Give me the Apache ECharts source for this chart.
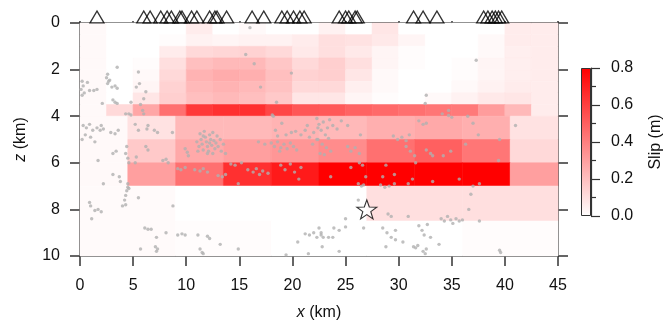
<!DOCTYPE html>
<html><head><meta charset="utf-8">
<script src="https://cdn.jsdelivr.net/npm/echarts@6/dist/echarts.min.js"></script>
<style>html,body{margin:0;padding:0;background:#fff}#c{width:667px;height:326px}</style>
</head><body><div id="c"></div>
<script>
// ---- Fault model: shallow layer (0-4 km), 2.5 km x 0.5 km patches
const topX = [0,2.5,5,7.5,10,12.5,15,17.5,20,22.5,25,27.5,30,32.5,35,37.5,40,42.5,45];
const topZ = [0,0.5,1,1.5,2,2.5,3,3.5,4];
const topSlip = [
 [0.02,0,0,0,0.06,0,0.02,0,0,0.04,0,0.08,0,0,0,0,0.06,0.06],
 [0.02,0,0,0.01,0.04,0.03,0.04,0.04,0.06,0.1,0.09,0.07,0.03,0,0,0.02,0.06,0.06],
 [0.02,0,0,0.06,0.12,0.13,0.14,0.12,0.07,0.1,0.07,0.03,0.01,0,0,0.02,0.05,0.06],
 [0.02,0,0.01,0.1,0.2,0.22,0.22,0.18,0.12,0.15,0.1,0.03,0.01,0,0.01,0.03,0.05,0.06],
 [0.02,0,0.02,0.12,0.24,0.26,0.25,0.2,0.14,0.15,0.08,0.02,0,0,0.01,0.03,0.05,0.06],
 [0.02,0,0.03,0.14,0.22,0.24,0.22,0.19,0.12,0.12,0.05,0.02,0,0,0.02,0.04,0.06,0.06],
 [0.02,0,0.08,0.15,0.2,0.22,0.2,0.17,0.08,0.08,0.03,0.01,0,0.02,0.04,0.07,0.08,0.06],
 [0.02,0.12,0.28,0.45,0.62,0.65,0.65,0.58,0.53,0.52,0.49,0.47,0.45,0.43,0.42,0.31,0.22,0.06]
];
// ---- middle layer (4-7 km), 4.5 km x 1 km patches
const midX = [0,4.5,9,13.5,18,22.5,27,31.5,36,40.5,45];
const midZ = [4,5,6,7];
const midSlip = [
 [0.02,0.09,0.22,0.22,0.24,0.22,0.25,0.27,0.25,0.09],
 [0.02,0.17,0.27,0.3,0.33,0.36,0.45,0.5,0.43,0.12],
 [0.02,0.3,0.45,0.65,0.72,0.8,0.8,0.8,0.8,0.3]
];
// ---- deep layer (7-10 km), 9 km x 1.5 km patches
const deepX = [0,9,18,27,36,45];
const deepZ = [7,8.5,10];
const deepSlip = [
 [0.015,0,0,0.1,0.1],
 [0.015,0.01,0,0,0.01]
];
// ---- stations (km along strike, at surface)
const stations = [1.6,6.0,6.6,7.6,8.2,8.6,9.4,9.6,10.5,11.0,12.2,12.7,12.9,13.8,16.2,17.3,19.0,19.5,20.1,20.7,21.1,24.4,25.0,25.3,25.9,26.1,31.4,32.3,33.6,38.0,38.4,38.8,39.1,39.4,39.7];
// ---- hypocenter
const hypo = [27, 8];
// ---- aftershocks [x, z]
const aftershocks = [
[0.2,2.5],[0.3,2.7],[0.1,2.85],[0.4,3.0],[0.2,3.1],[0.7,2.55],[0.9,2.9],[1.3,2.9],[1.6,2.85],[2.6,2.2],[2.5,2.35],[2.7,2.5],[2.6,2.6],[2.8,2.45],[3.5,1.9],[3.0,2.75],[3.3,2.7],[3.5,2.8],[3.1,3.3],[3.3,3.4],[3.5,3.45],[2.1,3.45],[4.8,3.4],[4.3,3.9],[4.6,3.9],[4.8,3.95],[5.5,2.1],[5.6,2.6],[5.3,2.75],[6.2,2.95],[6.0,3.25],[5.7,3.5],[5.9,3.75],[6.0,3.9],
[0.3,4.4],[0.6,4.5],[0.9,4.35],[1.2,4.6],[0.5,4.8],[1.0,4.9],[1.6,4.5],[1.9,4.6],[2.2,4.55],[2.0,4.4],[0.2,5.0],[1.4,5.1],[2.9,4.7],[3.3,4.75],[3.6,4.6],[3.1,5.6],[3.4,5.5],[4.3,5.6],[4.5,5.8],[4.6,6.0],[4.4,5.3],[1.7,5.9],[3.1,6.5],[3.7,6.6],[3.8,6.8],[2.2,6.9],[4.5,6.9],[4.5,7.05],[4.4,7.2],[4.6,7.1],[4.3,7.4],[4.2,7.6],[4.3,7.8],[4.0,7.85],[0.9,7.7],[1.0,7.85],[1.4,8.05],[1.7,8.0],[2.0,8.1],[1.1,8.4],[5.5,7.5],[8.75,7.85],
[5.2,4.35],[5.5,4.6],[6.4,4.4],[7.3,4.7],[8.7,4.7],[6.2,5.3],[6.4,5.45],[5.3,5.75],[5.2,6.0],[7.8,5.9],[8.1,5.85],[8.3,6.0],[6.3,4.55],[7.0,4.6],
[9.9,5.4],[10.1,5.55],[10.2,5.7],[11.0,5.1],[11.2,5.3],[11.4,5.0],[11.5,5.2],[11.6,5.45],[11.8,4.9],[11.9,5.1],[12.0,5.3],[12.1,5.5],[12.2,4.8],[12.3,5.0],[12.4,5.25],[12.5,4.7],[12.6,5.05],[12.7,5.4],[12.8,5.15],[13.0,5.3],[13.2,5.0],[13.3,5.5],[13.5,5.2],[13.7,5.6],[11.3,4.75],[11.7,4.65],[12.0,5.6],[12.5,5.6],[11.1,5.5],[12.9,4.85],[12.2,5.15],[11.6,4.85],
[9.2,6.25],[9.5,6.3],[9.9,6.2],[10.8,6.3],[11.3,6.35],[11.6,6.25],[12.0,6.4],[13.0,6.55],[13.4,6.6],[13.7,6.5],[14.2,6.05],[14.6,6.1],[15.2,6.0],[14.9,6.9],[15.8,6.3],[16.3,6.4],[16.6,6.25],[17.2,6.35],[17.7,6.45],[16.9,6.5],
[18.2,4.0],[19.0,4.3],[18.4,4.6],[18.6,4.85],[16.8,5.1],[17.4,5.2],[18.0,5.15],[18.3,5.3],[18.6,5.1],[18.9,5.35],[19.2,5.2],[19.5,5.4],[19.8,5.15],[20.1,5.3],[20.4,5.45],[18.8,5.5],[19.4,4.8],[19.9,4.7],
[18.9,6.1],[19.3,6.3],[19.8,6.05],[20.2,6.4],[20.6,6.7],[20.8,6.2],
[20.3,4.65],[20.8,4.8],[21.2,4.6],[21.6,4.9],[22.0,4.7],[22.3,5.0],[21.9,5.2],[22.4,4.5],[21.4,4.4],[22.6,5.6],
[22.3,4.1],[22.5,4.35],[22.7,4.6],[22.9,4.25],[23.1,4.8],[23.3,4.5],[23.5,4.15],[22.4,5.0],[22.8,5.2],[23.2,5.35],[23.6,5.5],[23.0,5.65],[23.4,4.95],[23.8,4.4],[24.6,4.2],[24.2,4.55],
[25.2,5.3],[25.5,5.5],[25.9,5.35],[26.3,5.6],[26.3,6.0],[26.6,6.1],[25.5,6.2],[23.6,6.6],[26.9,6.6],[26.2,6.9],[26.5,7.0],[26.7,6.95],[25.2,4.4],[26.4,4.8],
[29.5,4.85],[29.9,5.0],[30.3,4.9],[30.7,5.05],[31.0,4.8],[31.9,4.2],[32.3,4.35],[32.6,4.3],[30.7,5.3],[31.1,5.5],[31.5,5.7],[32.6,5.45],[33.0,5.6],[33.2,5.7],[31.6,6.0],[28.8,6.1],[28.5,6.6],[29.6,6.5],
[34.7,3.97],[35.0,4.05],[34.2,5.7],[34.9,5.5],[36.3,5.2],[37.5,4.8],[35.7,6.7],[37.6,6.9],[39.4,5.9],[41.0,4.4],[36.5,4.0],[37.0,4.3],[39.5,5.0],
[28.3,6.95],[28.7,7.05],[29.1,7.0],[29.6,6.9],[30.9,6.9],[31.3,6.7],[33.2,6.8],[37.0,7.0],[26.2,7.6],[36.8,7.35],[36.6,8.0],
[16.0,0.2],[16.4,1.75],[15.6,1.35],[17.0,2.75],[19.9,2.15],[18.5,3.4],[18.1,3.95],[37.3,1.6],[32.6,3.1],[32.5,3.45],[34.7,3.75],[34.1,3.9],
[6.1,8.8],[6.4,8.85],[6.7,8.85],[7.2,9.2],[8.1,9.0],[9.2,9.1],[9.6,9.05],[9.9,9.1],[11.1,9.1],[12.0,9.15],[12.2,9.25],[13.2,9.5],[5.7,9.7],[7.1,9.6],[7.2,9.8],[7.3,9.7],[11.3,9.7],[11.5,9.85],[11.6,9.9],[14.9,9.7],[19.4,9.95],[21.2,9.05],[21.6,9.1],[22.0,9.0],[22.3,9.2],[22.7,9.1],[20.5,9.4],[21.5,9.9],
[29.0,8.2],[29.3,8.3],[30.9,8.3],[34.0,8.4],[34.3,8.5],[34.6,8.3],[34.9,8.45],[35.1,8.6],[35.4,8.4],[35.7,8.5],[36.0,8.45],[37.6,8.5],
[22.5,8.8],[22.7,9.0],[22.9,9.2],[23.4,9.2],[23.8,9.2],[23.9,8.8],[24.4,8.9],[25.0,8.75],[25.0,8.4],[26.7,8.8],[28.5,8.8],[28.9,9.0],[29.3,9.2],[29.7,8.9],[28.8,9.6],[29.7,9.3],[30.4,9.4],[31.4,9.6],[31.6,9.65],[31.8,9.55],[31.9,8.7],[32.2,8.9],[32.4,9.1],[32.7,8.65],[33.0,9.2],[32.3,9.8],[32.5,9.9],[32.6,9.7],[33.8,9.5],[24.4,9.8],[22.8,9.6],[39.5,9.75],[39.6,9.85]
];
const xTicks = [0,5,10,15,20,25,30,35,40,45];
const zTicks = [0,2,4,6,8,10];
const slipMax = 0.8;

function cells(xs, zs, m){
  const out = [];
  for (let r = 0; r < m.length; r++)
    for (let c = 0; c < m[r].length; c++)
      out.push([xs[c], xs[c+1], zs[r], zs[r+1], m[r][c]]);
  return out;
}
const patchData = [].concat(cells(topX, topZ, topSlip), cells(midX, midZ, midSlip), cells(deepX, deepZ, deepSlip));

const FONT = 'Liberation Sans, Arial, Helvetica, sans-serif';
const AX = '#333';
const chart = echarts.init(document.getElementById('c'), null, {renderer:'canvas'});
chart.setOption({
  animation:false,
  backgroundColor:'#fff',
  textStyle:{fontFamily:FONT},
  grid:[
    {left:80, top:23, width:478, height:239},
    {left:581, top:68, width:10, height:148}
  ],
  visualMap:{type:'continuous', show:false, min:0, max:slipMax, dimension:4, seriesIndex:0,
    inRange:{color:['#ffffff','#ff0000']}},
  xAxis:[
    {gridIndex:0, type:'value', min:0, max:45, interval:5, position:'bottom',
     axisLine:{show:true, onZero:false, lineStyle:{color:AX, width:1.5}},
     axisTick:{show:true, length:10, lineStyle:{color:AX, width:1.5}},
     axisLabel:{color:'#111', fontSize:16, margin:22, fontFamily:FONT,
       formatter:v=>xTicks.includes(v)?String(v):''},
     splitLine:{show:false},
     name:'{i|x} (km)', nameLocation:'middle', nameGap:49,
     nameTextStyle:{color:'#111', fontSize:16, fontFamily:FONT,
       rich:{i:{fontStyle:'italic', fontSize:16, color:'#111', fontFamily:FONT}}}},
    {gridIndex:0, type:'value', min:0, max:45, interval:5, position:'top',
     axisLine:{show:true, onZero:false, lineStyle:{color:AX, width:1.5}},
     axisTick:{show:true, length:2, lineStyle:{color:AX, width:1.5}},
     axisLabel:{show:false}, splitLine:{show:false}},
    {gridIndex:1, type:'category', data:['slip'], show:false}
  ],
  yAxis:[
    {gridIndex:0, type:'value', min:0, max:10, interval:2, inverse:true, position:'left',
     axisLine:{show:true, onZero:false, lineStyle:{color:AX, width:1.5}},
     axisTick:{show:true, length:10, lineStyle:{color:AX, width:1.5}},
     axisLabel:{color:'#111', fontSize:16, margin:20, fontFamily:FONT,
       formatter:v=>zTicks.includes(v)?String(v):''},
     splitLine:{show:false},
     name:'{i|z} (km)', nameLocation:'middle', nameGap:51, nameRotate:90,
     nameTextStyle:{color:'#111', fontSize:16, fontFamily:FONT,
       rich:{i:{fontStyle:'italic', fontSize:16, color:'#111', fontFamily:FONT}}}},
    {gridIndex:0, type:'value', min:0, max:10, interval:2, inverse:true, position:'right',
     axisLine:{show:true, onZero:false, lineStyle:{color:AX, width:1.5}},
     axisTick:{show:true, length:10, lineStyle:{color:AX, width:1.5}},
     axisLabel:{show:false}, splitLine:{show:false}},
    {gridIndex:1, type:'value', min:0, max:slipMax, interval:0.2, position:'right',
     axisLine:{show:true, lineStyle:{color:AX, width:1.2}},
     axisTick:{show:true, length:9, lineStyle:{color:AX, width:1.2}},
     minorTick:{show:true, splitNumber:2, length:5, lineStyle:{color:AX, width:1.2}},
     axisLabel:{color:'#111', fontSize:16, margin:20, fontFamily:FONT, formatter:v=>v.toFixed(1)},
     splitLine:{show:false}, minorSplitLine:{show:false},
     name:'Slip (m)', nameLocation:'middle', nameGap:57, nameRotate:90,
     nameTextStyle:{color:'#111', fontSize:16, fontFamily:FONT}}
  ],
  series:[
    {type:'custom', xAxisIndex:0, yAxisIndex:0, data:patchData, encode:{x:[0,1], y:[2,3]},
     renderItem:function(params, api){
       const p0 = api.coord([api.value(0), api.value(2)]);
       const p1 = api.coord([api.value(1), api.value(3)]);
       const c = api.visual('color');
       return {type:'rect', shape:{x:Math.min(p0[0],p1[0]), y:Math.min(p0[1],p1[1]),
         width:Math.abs(p1[0]-p0[0]), height:Math.abs(p1[1]-p0[1])},
         style:{fill:c, stroke:c, lineWidth:0.6}};
     }, z:1},
    {type:'scatter', xAxisIndex:0, yAxisIndex:0, data:aftershocks, symbol:'circle', symbolSize:3.4,
     itemStyle:{color:'#b0b0b0'}, silent:true, z:2},
    {type:'scatter', xAxisIndex:0, yAxisIndex:0, data:stations.map(s=>[s,0]), symbol:'triangle',
     symbolSize:[14,12], symbolOffset:[0,-6], clip:false,
     itemStyle:{color:'rgba(0,0,0,0)', borderColor:'#000', borderWidth:1.3}, z:4},
    {type:'scatter', xAxisIndex:0, yAxisIndex:0, data:[hypo],
     symbol:'path://M0,-10 L2.35,-3.24 L9.51,-3.09 L3.8,1.24 L5.88,8.09 L0,4 L-5.88,8.09 L-3.8,1.24 L-9.51,-3.09 L-2.35,-3.24 Z',
     symbolSize:[20,19], itemStyle:{color:'#fff', borderColor:'#000', borderWidth:1.1}, z:5},
    {type:'bar', xAxisIndex:2, yAxisIndex:2, data:[slipMax], barWidth:'100%',
     itemStyle:{color:new echarts.graphic.LinearGradient(0,0,0,1,[{offset:0,color:'#ff0000'},{offset:1,color:'#ffffff'}]),
       borderColor:AX, borderWidth:1}, silent:true, z:2}
  ]
});
</script></body></html>
